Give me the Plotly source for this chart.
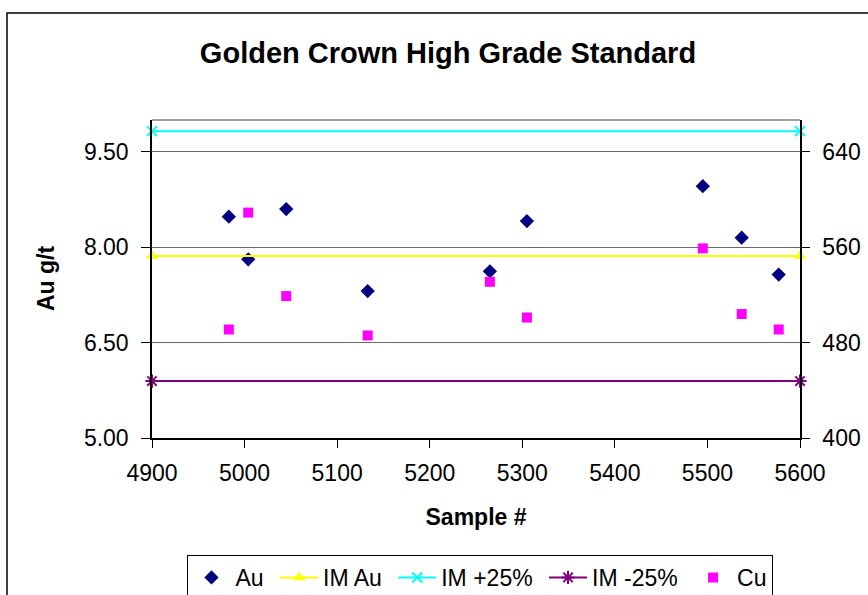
import plotly.graph_objects as go

# Data
sample_no = [4983, 5004, 5045, 5133, 5265, 5305, 5495, 5537, 5577]
au_gt = [8.48, 7.81, 8.60, 7.31, 7.62, 8.41, 8.96, 8.15, 7.57]
cu_vals = [491, 589, 519, 486, 531, 501, 559, 504, 491]
im_x = [4900, 5600]
im_au = [7.86, 7.86]
im_plus25 = [9.825, 9.825]
im_minus25 = [5.895, 5.895]
series_names = ["Au", "IM Au", "IM +25%", "IM -25%", "Cu"]

FONT = "Liberation Sans, Arial, sans-serif"
NB = "\u00a0"

fig = go.Figure()
fig.add_trace(go.Scatter(x=sample_no, y=au_gt, mode="markers", name=series_names[0] + NB,
                         marker=dict(symbol="diamond", color="#000080", size=11),
                         cliponaxis=False))
fig.add_trace(go.Scatter(x=im_x, y=im_au, mode="lines+markers", name=series_names[1] + NB,
                         line=dict(color="#FFFF00", width=2),
                         marker=dict(symbol="triangle-up", color="#FFFF00", size=11),
                         cliponaxis=False))
fig.add_trace(go.Scatter(x=im_x, y=im_plus25, mode="lines+markers", name=series_names[2] + NB,
                         line=dict(color="#00FFFF", width=2),
                         marker=dict(symbol="x-thin", size=10, line=dict(color="#00FFFF", width=2)),
                         cliponaxis=False))
fig.add_trace(go.Scatter(x=im_x, y=im_minus25, mode="lines+markers", name=series_names[3] + NB,
                         line=dict(color="#800080", width=2),
                         marker=dict(symbol="asterisk-open", size=11, line=dict(color="#800080", width=2)),
                         cliponaxis=False))
fig.add_trace(go.Scatter(x=sample_no, y=cu_vals, mode="markers", name=series_names[4], yaxis="y2",
                         marker=dict(symbol="square", color="#FF00FF", size=10),
                         cliponaxis=False))

W, H = 868, 595
L, R, T, B = 152, 68, 120, 157
pw, ph = W - L - R, H - T - B

def px_x(p):
    return (p - L) / pw

def px_y(p):
    return (H - B - p) / ph

fig.update_layout(
    width=W, height=H,
    margin=dict(l=L, r=R, t=T, b=B, autoexpand=False),
    paper_bgcolor="white", plot_bgcolor="white",
    font=dict(family=FONT, color="black", size=23),
    title=dict(text="<b>Golden Crown High Grade Standard</b>",
               font=dict(size=29, family=FONT, color="black"),
               x=448 / W, xanchor="center", xref="container",
               y=1 - 53 / H, yanchor="middle", yref="container"),
    xaxis=dict(range=[4900, 5600], dtick=100, tick0=4900,
               showgrid=False, zeroline=False,
               showline=True, linecolor="black", linewidth=1.5,
               ticks="outside", ticklen=8, tickcolor="black",
               ticklabelstandoff=6,
               tickfont=dict(size=23),
               title=dict(text="<b>Sample #</b>", font=dict(size=23), standoff=24)),
    yaxis=dict(range=[5, 10], tickvals=[5, 6.5, 8, 9.5], tickformat=".2f",
               showgrid=True, gridcolor="#6a6a6a", gridwidth=1, zeroline=False,
               showline=True, linecolor="black", linewidth=1.5,
               ticks="outside", ticklen=9, tickcolor="black",
               ticklabelstandoff=8,
               tickfont=dict(size=23)),
    yaxis2=dict(range=[400, 2000 / 3], tickvals=[400, 480, 560, 640],
                overlaying="y", side="right", showgrid=False, zeroline=False,
                showline=True, linecolor="black", linewidth=1.5,
                ticks="outside", ticklen=8, tickcolor="black",
                ticklabelstandoff=8,
                tickfont=dict(size=23)),
    legend=dict(orientation="h", x=px_x(479.5), xanchor="center",
                y=px_y(555), yanchor="top", itemwidth=38,
                bgcolor="white", bordercolor="black", borderwidth=1,
                font=dict(size=23, family=FONT)),
    showlegend=True,
    annotations=[
        dict(text="<b>Au g/t</b>", xref="paper", yref="paper",
             x=px_x(46), y=px_y(279), xanchor="center", yanchor="middle",
             textangle=-90, showarrow=False, font=dict(size=23, family=FONT, color="black")),
    ],
    shapes=[
        dict(type="line", xref="paper", yref="paper", x0=0, x1=1, y0=1, y1=1,
             line=dict(color="#808080", width=1.5)),
        dict(type="rect", xref="paper", yref="paper",
             x0=px_x(7), x1=px_x(875), y0=px_y(13), y1=px_y(605),
             line=dict(color="black", width=1.5), layer="below"),
    ],
)

fig.write_html("out.html")
